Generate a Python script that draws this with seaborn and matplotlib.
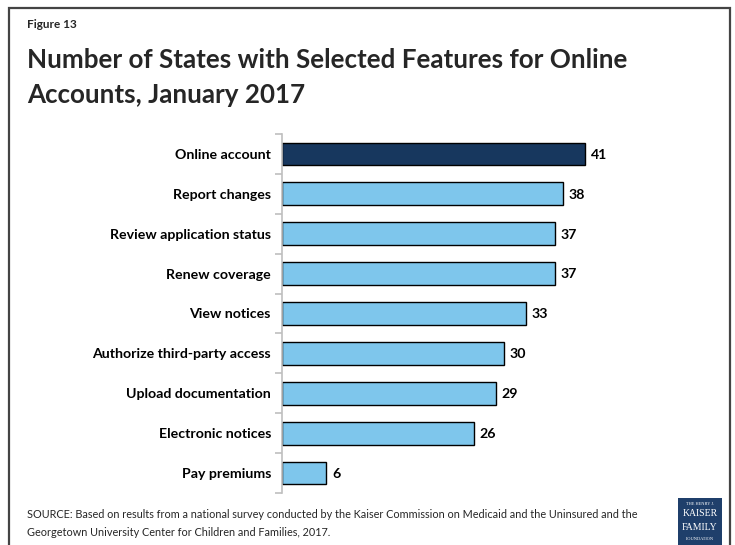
import matplotlib
matplotlib.use("Agg")
import matplotlib.pyplot as plt
from matplotlib.patches import Rectangle
import seaborn as sns
import pandas as pd

features = [
    "Online account",
    "Report changes",
    "Review application status",
    "Renew coverage",
    "View notices",
    "Authorize third-party access",
    "Upload documentation",
    "Electronic notices",
    "Pay premiums",
]
states = [41, 38, 37, 37, 33, 30, 29, 26, 6]

DARK = "#17375E"
LIGHT = "#7EC6EC"
colors = [DARK] + [LIGHT] * (len(features) - 1)

sns.set_theme(style="white")
plt.rcParams["font.family"] = ["Lato", "DejaVu Sans"]

W, H = 735, 545
fig = plt.figure(figsize=(W / 100, H / 100), dpi=100)
fig.patch.set_facecolor("white")

ax = fig.add_axes([282 / W, 1 - 493 / H, (645 - 282) / W, (493 - 134) / H])
df = pd.DataFrame({"feature": features, "states": states})
sns.barplot(data=df, y="feature", x="states", hue="feature", palette=colors,
            order=features, hue_order=features, legend=False, orient="h",
            width=0.57, saturation=1, edgecolor="black", linewidth=1.0, ax=ax)

ax.set_xlim(0, (645 - 282) / (303 / 41))
ax.set_ylim(len(features) - 0.5, -0.5)
ax.set_xlabel("")
ax.set_ylabel("")
ax.set_xticks([])
for s in ["top", "right", "bottom"]:
    ax.spines[s].set_visible(False)
ax.spines["left"].set_color("#BFBFBF")
ax.spines["left"].set_linewidth(1.2)
ax.tick_params(axis="y", which="major", left=True, length=0, pad=8,
               labelsize=10.2)
for lbl in ax.get_yticklabels():
    lbl.set_fontweight("bold")
    lbl.set_color("black")
ax.set_yticks([i - 0.5 for i in range(len(features) + 1)], minor=True)
ax.tick_params(axis="y", which="minor", left=True, length=5, width=1.2,
               color="#BFBFBF", direction="out")

for i, v in enumerate(states):
    ax.text(v + 0.75, i + 0.02, f"{v}", va="center", ha="left", fontsize=10.2,
            fontweight="bold", color="black")

# frame around the slide
fig.add_artist(Rectangle((8.5 / W, -0.05), (730 - 8.5) / W, 1.05 - 7.5 / H,
                         transform=fig.transFigure, fill=False,
                         edgecolor="#444444", linewidth=1.6))

fig.text(27 / W, 1 - 24 / H, "Figure 13", fontsize=8.5, fontweight="bold",
         va="center", ha="left")
fig.text(27 / W, 1 - 60 / H, "Number of States with Selected Features for Online",
         fontsize=18.7, fontweight="bold", va="center", ha="left")
fig.text(27 / W, 1 - 95 / H, "Accounts, January 2017",
         fontsize=18.7, fontweight="bold", va="center", ha="left")

fig.text(27 / W, 1 - 515 / H,
         "SOURCE: Based on results from a national survey conducted by the Kaiser "
         "Commission on Medicaid and the Uninsured and the",
         fontsize=7.8, va="center", ha="left")
fig.text(27 / W, 1 - 532 / H,
         "Georgetown University Center for Children and Families, 2017.",
         fontsize=7.8, va="center", ha="left")

# foundation logo block
fig.add_artist(Rectangle((678 / W, 1 - 545 / H), 44 / W, 47 / H,
                         transform=fig.transFigure, facecolor="#1F3F6B",
                         edgecolor="none"))
logo = [("THE HENRY J.", 3.2, 504), ("KAISER", 7.0, 514), ("FAMILY", 7.0, 527),
        ("FOUNDATION", 3.2, 539)]
for txt, fs, yy in logo:
    fig.text(700 / W, 1 - yy / H, txt, fontsize=fs, color="white",
             family=["Liberation Serif", "DejaVu Serif"], ha="center", va="center")

fig.savefig("out.png", dpi=100)
